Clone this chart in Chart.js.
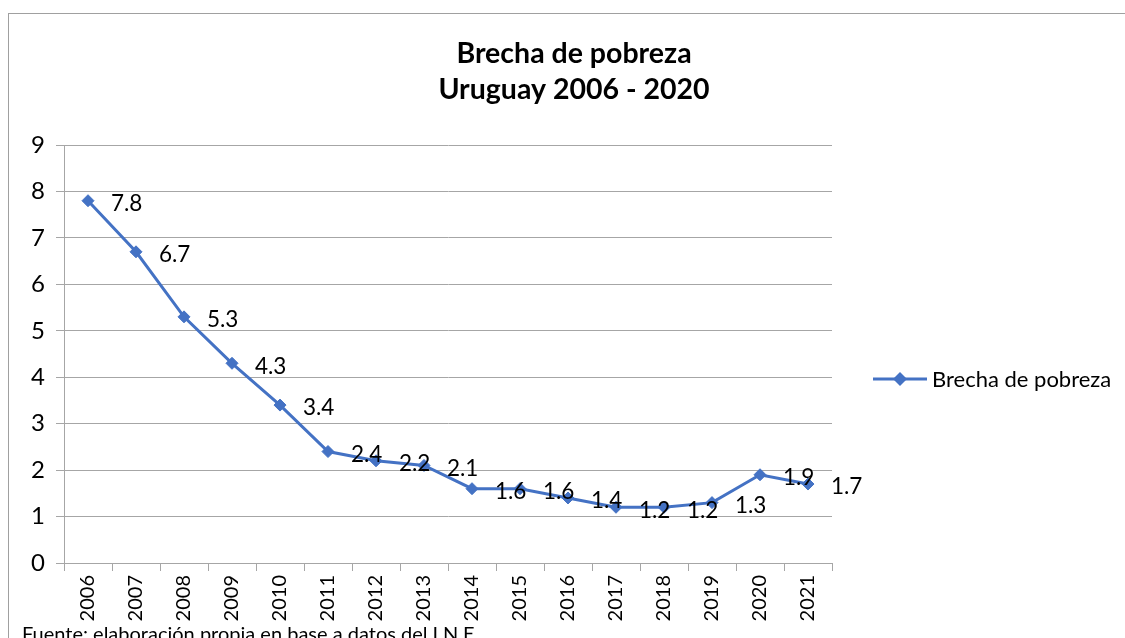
<!DOCTYPE html>
<html>
<head>
<meta charset="utf-8">
<script src="https://cdn.jsdelivr.net/npm/chart.js@4.4.1/dist/chart.umd.min.js"></script>
<style>
  html, body { margin: 0; padding: 0; background: #fff; }
  #wrap { width: 1125px; height: 638px; position: relative; }
</style>
</head>
<body>
<div id="wrap"><canvas id="chart"></canvas></div>
<script>
// ── Data ────────────────────────────────────────────────
const years  = ["2006", "2007", "2008", "2009", "2010", "2011", "2012", "2013",
                "2014", "2015", "2016", "2017", "2018", "2019", "2020", "2021"];
const brecha = [7.8, 6.7, 5.3, 4.3, 3.4, 2.4, 2.2, 2.1, 1.6, 1.6, 1.4, 1.2, 1.2, 1.3, 1.9, 1.7];
const yMin = 0, yMax = 9, yStep = 1;

const seriesName = "Brecha de pobreza";
const titleLines = ["Brecha de pobreza", "Uruguay 2006 - 2020"];
const footer     = "Fuente: elaboración propia en base a datos del I.N.E.";

const BLUE = "#4472C4";
const GRID = "#a6a6a6";
const FONT = "Lato, 'Open Sans', sans-serif";

// ── Extras drawn on top (title, legend, labels, frame) ─
const decor = {
  id: "decor",
  afterDraw(chart) {
    const ctx = chart.ctx;
    ctx.save();

    // outer frame
    ctx.strokeStyle = "#a0a0a0";
    ctx.lineWidth = 1;
    ctx.strokeRect(8.5, 13.5, 1200, 700);

    // title
    ctx.fillStyle = "#000";
    ctx.font = "bold 28.5px " + FONT;
    ctx.textAlign = "center";
    ctx.textBaseline = "alphabetic";
    ctx.fillText(titleLines[0], 574, 63);
    ctx.fillText(titleLines[1], 574, 99);

    // value labels, right of each point
    const meta = chart.getDatasetMeta(0);
    ctx.font = "22.5px " + FONT;
    ctx.textAlign = "left";
    ctx.textBaseline = "middle";
    meta.data.forEach((pt, i) => {
      ctx.fillText(String(brecha[i]), pt.x + 23, pt.y + 3);
    });

    // legend
    const ly = 379;
    ctx.strokeStyle = BLUE;
    ctx.lineWidth = 3;
    ctx.beginPath();
    ctx.moveTo(873, ly);
    ctx.lineTo(927, ly);
    ctx.stroke();
    ctx.fillStyle = BLUE;
    ctx.beginPath();
    ctx.moveTo(900, ly - 7);
    ctx.lineTo(907, ly);
    ctx.lineTo(900, ly + 7);
    ctx.lineTo(893, ly);
    ctx.closePath();
    ctx.fill();
    ctx.fillStyle = "#000";
    ctx.font = "22px " + FONT;
    ctx.fillText(seriesName, 932, ly + 1);

    // source note (cut off at the bottom edge, as in the original)
    ctx.font = "20px " + FONT;
    ctx.textBaseline = "alphabetic";
    ctx.fillText(footer, 22, 641);

    ctx.restore();
  }
};

new Chart(document.getElementById("chart"), {
  type: "line",
  data: {
    labels: years,
    datasets: [{
      label: seriesName,
      data: brecha,
      borderColor: BLUE,
      backgroundColor: BLUE,
      borderWidth: 3,
      tension: 0,
      pointStyle: "rectRot",
      pointRadius: 6,
      pointHoverRadius: 6,
      pointBackgroundColor: BLUE,
      pointBorderColor: BLUE,
      pointBorderWidth: 1
    }]
  },
  options: {
    responsive: true,
    maintainAspectRatio: false,
    animation: false,
    layout: { padding: { top: 145, right: 293, bottom: 0, left: 0 } },
    scales: {
      x: {
        offset: true,
        grid: { offset: true, drawOnChartArea: false, color: GRID, tickLength: 8 },
        border: { color: GRID },
        ticks: {
          color: "#000",
          font: { family: FONT, size: 20 },
          minRotation: 90,
          maxRotation: 90,
          padding: 4,
          autoSkip: false
        },
        afterFit(scale) { scale.height = 75; }
      },
      y: {
        min: yMin,
        max: yMax,
        ticks: { stepSize: yStep, color: "#000", font: { family: FONT, size: 24 }, padding: 11 },
        grid: { color: GRID, tickLength: 8 },
        border: { color: GRID },
        afterFit(scale) { scale.width = 64; }
      }
    },
    plugins: {
      legend: { display: false },
      title: { display: false },
      tooltip: { enabled: false }
    }
  },
  plugins: [decor]
});
</script>
</body>
</html>
